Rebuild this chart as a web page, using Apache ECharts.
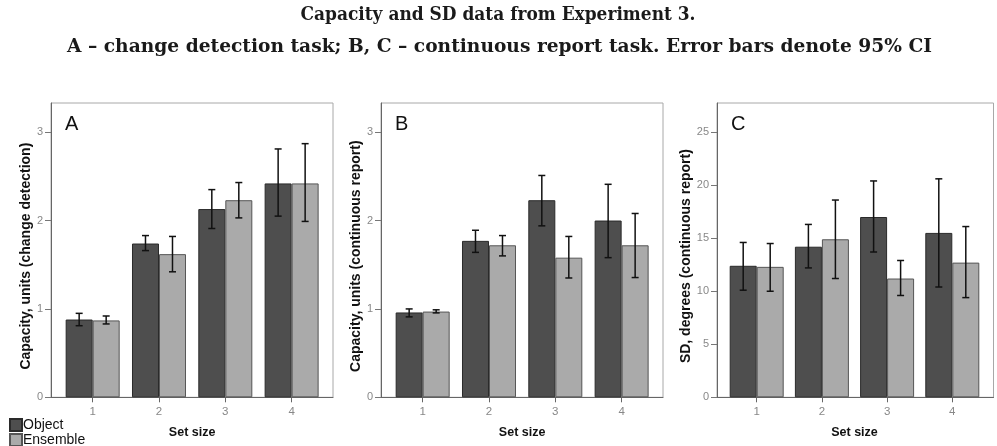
<!DOCTYPE html>
<html><head><meta charset="utf-8">
<script src="https://cdn.jsdelivr.net/npm/echarts@6/dist/echarts.min.js"></script>
<style>html,body{margin:0;padding:0;background:#fff}#c{width:997px;height:446px}</style>
</head><body><div id="c"></div>
<script>
const setSizes = ['1', '2', '3', '4'];
const seriesNames = ['Object', 'Ensemble'];

// Panel A: capacity, change detection
const capA_object = [0.88, 1.74, 2.13, 2.42];
const capA_object_lo = [0.81, 1.66, 1.91, 2.05];
const capA_object_hi = [0.95, 1.83, 2.35, 2.81];
const capA_ensemble = [0.87, 1.62, 2.23, 2.42];
const capA_ensemble_lo = [0.83, 1.42, 2.03, 1.99];
const capA_ensemble_hi = [0.92, 1.82, 2.43, 2.87];

// Panel B: capacity, continuous report
const capB_object = [0.96, 1.77, 2.23, 2.00];
const capB_object_lo = [0.91, 1.64, 1.94, 1.58];
const capB_object_hi = [1.00, 1.89, 2.51, 2.41];
const capB_ensemble = [0.97, 1.72, 1.58, 1.72];
const capB_ensemble_lo = [0.955, 1.60, 1.35, 1.355];
const capB_ensemble_hi = [0.99, 1.83, 1.82, 2.08];

// Panel C: SD degrees, continuous report
const sdC_object = [12.4, 14.2, 17.0, 15.5];
const sdC_object_lo = [10.1, 12.2, 13.7, 10.4];
const sdC_object_hi = [14.6, 16.3, 20.4, 20.6];
const sdC_ensemble = [12.3, 14.9, 11.2, 12.7];
const sdC_ensemble_lo = [10.0, 11.2, 9.6, 9.4];
const sdC_ensemble_hi = [14.5, 18.6, 12.9, 16.1];

const yTicksCap = [0, 1, 2, 3];
const yTicksSD = [0, 5, 10, 15, 20, 25];

const titleLine1 = 'Capacity and SD data from Experiment 3.';
const titleLine2 = 'A – change detection task; B, C – continuous report task. Error bars denote 95% CI';

const panels = [
  {letter: 'A', yName: 'Capacity, units (change detection)', max: 3.33, ticks: yTicksCap, nameGap: 16,
   frame: {left: 51, width: 282}, data: {left: 59.5, width: 265.3},
   obj: capA_object, objLo: capA_object_lo, objHi: capA_object_hi,
   ens: capA_ensemble, ensLo: capA_ensemble_lo, ensHi: capA_ensemble_hi},
  {letter: 'B', yName: 'Capacity, units (continuous report)', max: 3.33, ticks: yTicksCap, nameGap: 9,
   frame: {left: 381, width: 282}, data: {left: 389.5, width: 265.3},
   obj: capB_object, objLo: capB_object_lo, objHi: capB_object_hi,
   ens: capB_ensemble, ensLo: capB_ensemble_lo, ensHi: capB_ensemble_hi},
  {letter: 'C', yName: 'SD, degrees (continuous report)', max: 27.75, ticks: yTicksSD, nameGap: 23,
   frame: {left: 717, width: 276.5}, data: {left: 724.1, width: 260.8},
   obj: sdC_object, objLo: sdC_object_lo, objHi: sdC_object_hi,
   ens: sdC_ensemble, ensLo: sdC_ensemble_lo, ensHi: sdC_ensemble_hi}
];

const TOP = 103, HEIGHT = 294.3, BAR_W = 27;
const sans = 'Liberation Sans, Arial, sans-serif';
const serifFont = 'bold 19px "DejaVu Serif", "Liberation Serif", serif';
const grids = [], xAxes = [], yAxes = [], series = [], titles = [];

function errRender(shift) {
  return function (params, api) {
    const x = api.value(0);
    const lo = api.coord([x, api.value(1)]);
    const hi = api.coord([x, api.value(2)]);
    const cx = lo[0] + shift, cap = 3.5;
    const st = {stroke: '#111', lineWidth: 1.5};
    return {type: 'group', children: [
      {type: 'line', shape: {x1: cx, y1: hi[1], x2: cx, y2: lo[1]}, style: st},
      {type: 'line', shape: {x1: cx - cap, y1: hi[1], x2: cx + cap, y2: hi[1]}, style: st},
      {type: 'line', shape: {x1: cx - cap, y1: lo[1], x2: cx + cap, y2: lo[1]}, style: st}
    ]};
  };
}

panels.forEach((p, i) => {
  const fg = grids.length;
  grids.push({left: p.frame.left, width: p.frame.width, top: TOP, height: HEIGHT,
    show: true, borderColor: '#a8a8a8', borderWidth: 1, backgroundColor: 'transparent'});
  xAxes.push({gridIndex: fg, type: 'value', min: 0, max: 1,
    axisLine: {show: true, lineStyle: {color: '#666', width: 1}}, axisTick: {show: false},
    axisLabel: {show: false}, splitLine: {show: false}});
  yAxes.push({gridIndex: fg, type: 'value', min: 0, max: p.max,
    name: p.yName, nameLocation: 'middle', nameGap: p.nameGap,
    nameTextStyle: {fontFamily: sans, fontSize: 14, fontWeight: 'bold', color: '#111', padding: [0, 12, 0, 0]},
    axisLine: {show: true, lineStyle: {color: '#666', width: 1}},
    axisTick: {show: true, length: 6, customValues: p.ticks, lineStyle: {color: '#777'}},
    axisLabel: {customValues: p.ticks, fontFamily: sans, fontSize: 11, color: '#888', margin: 8},
    splitLine: {show: false}});
  const dg = grids.length;
  grids.push({left: p.data.left, width: p.data.width, top: TOP, height: HEIGHT, show: false});
  xAxes.push({gridIndex: dg, type: 'category', data: setSizes,
    name: 'Set size', nameLocation: 'middle', nameGap: 29,
    nameTextStyle: {fontFamily: sans, fontSize: 12.5, fontWeight: 'bold', color: '#111'},
    axisLine: {show: false},
    axisTick: {show: true, alignWithLabel: true, length: 5, lineStyle: {color: '#666'}},
    axisLabel: {fontFamily: sans, fontSize: 11.5, color: '#888', margin: 9}});
  yAxes.push({gridIndex: dg, type: 'value', min: 0, max: p.max, show: false,
    splitLine: {show: false}});
  series.push({name: 'Object', type: 'bar', xAxisIndex: dg, yAxisIndex: dg, data: p.obj,
    barWidth: BAR_W, barGap: '0%',
    itemStyle: {color: '#4e4e4e', borderColor: '#2a2a2a', borderWidth: 1}});
  series.push({name: 'Ensemble', type: 'bar', xAxisIndex: dg, yAxisIndex: dg, data: p.ens,
    barWidth: BAR_W, barGap: '0%',
    itemStyle: {color: '#aaaaaa', borderColor: '#555', borderWidth: 1}});
  series.push({type: 'custom', xAxisIndex: dg, yAxisIndex: dg, z: 5,
    renderItem: errRender(-BAR_W / 2),
    data: setSizes.map((s, k) => [k, p.objLo[k], p.objHi[k]]), encode: {x: 0, y: [1, 2]}});
  series.push({type: 'custom', xAxisIndex: dg, yAxisIndex: dg, z: 5,
    renderItem: errRender(BAR_W / 2),
    data: setSizes.map((s, k) => [k, p.ensLo[k], p.ensHi[k]]), encode: {x: 0, y: [1, 2]}});
  titles.push({text: p.letter, left: p.frame.left + 9, top: 109,
    textStyle: {fontFamily: sans, fontSize: 20, fontWeight: 'normal', color: '#111'}});
});

// fit the serif caption lines to the widths seen in the reference
const mctx = document.createElement('canvas').getContext('2d');
mctx.font = serifFont;
function fitScale(text, target) { return target / mctx.measureText(text).width; }

const chart = echarts.init(document.getElementById('c'), null, {renderer: 'canvas'});
chart.setOption({
  animation: false,
  backgroundColor: '#fff',
  title: titles,
  graphic: [
    {type: 'text', x: 498, y: 15, scaleX: fitScale(titleLine1, 395),
     style: {text: titleLine1, font: serifFont, fill: '#1a1a1a', align: 'center', verticalAlign: 'middle'}},
    {type: 'text', x: 499.5, y: 47, scaleX: fitScale(titleLine2, 865),
     style: {text: titleLine2, font: serifFont, fill: '#1a1a1a', align: 'center', verticalAlign: 'middle'}}
  ],
  legend: {data: seriesNames, orient: 'vertical', left: 9, top: 418, padding: 0, height: 40,
    itemWidth: 12, itemHeight: 12, itemGap: 1, icon: 'rect',
    textStyle: {fontFamily: sans, fontSize: 14, lineHeight: 14, color: '#111', padding: [0, 0, 0, -4]}},
  grid: grids, xAxis: xAxes, yAxis: yAxes, series: series
});
</script></body></html>
